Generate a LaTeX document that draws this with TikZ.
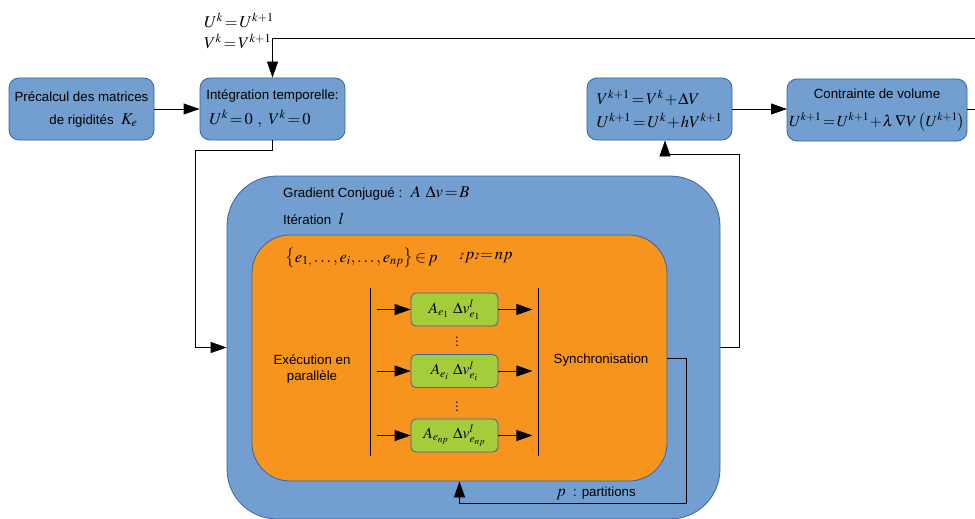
\documentclass[tikz,border=0pt]{standalone}
\usepackage{mathptmx}
\usepackage{fontspec}
\setmainfont{Liberation Sans}
\newfontfamily\djv{DejaVu Sans}
\usetikzlibrary{arrows.meta}
\definecolor{fillblue}{HTML}{729FCF}
\definecolor{bordblue}{HTML}{3465A4}
\definecolor{fillorange}{HTML}{F7941D}
\definecolor{fillgreen}{HTML}{A5CC3A}
\newcommand\mth[1]{{\fontsize{16.5}{18}\selectfont$#1$}}
\newcommand\mths[1]{{\fontsize{15.5}{18}\selectfont$#1$}}
\begin{document}
\begin{tikzpicture}[x=1pt,y=-1pt,
  every node/.style={font=\fontsize{13.3}{16.5}\selectfont, inner sep=0pt},
  box/.style={draw=bordblue, fill=fillblue, rounded corners=10pt, line width=0.8pt,
    font=\fontsize{13.3}{23}\selectfont},
  gbox/.style={draw=bordblue, fill=fillgreen, rounded corners=5pt, line width=0.8pt,
    minimum width=87pt, minimum height=33pt},
  arr/.style={-{Triangle[length=16pt,width=11pt]}, line width=0.8pt},
  ln/.style={line width=0.8pt},
  lbl/.style={anchor=west}
]
\thickmuskip=2mu \medmuskip=1mu
\useasboundingbox (0,0) rectangle (975,519);

% big containers
\node[draw=bordblue, fill=fillblue, rounded corners=50pt, line width=0.8pt,
  minimum width=493pt, minimum height=343pt] (cg) at (473.5,347.5) {};
\node[draw=bordblue, fill=fillorange, rounded corners=38pt, line width=0.8pt,
  minimum width=415pt, minimum height=246pt] (par) at (459.5,358) {};

% top boxes
\node[box, minimum width=145pt, minimum height=62pt, align=center] (pre) at (81.5,109)
  {Précalcul des matrices\\\hspace*{24pt}de rigidités \ \mth{K_e}};
\node[box, minimum width=145pt, minimum height=62pt, align=left] (int) at (272.5,109)
  {Intégration temporelle:\\[2pt]\hspace*{3pt}\mth{U^k=0\ ,\ V^k=0}};
\node[box, minimum width=145pt, minimum height=62pt, align=left] (upd) at (659.5,109)
  {\mth{V^{k+1}=V^k+\Delta V}\\\mth{U^{k+1}=U^k+hV^{k+1}}};
\node[box, minimum width=180pt, minimum height=62pt, align=center] (vol) at (877,110)
  {Contrainte de volume\\[5pt]\mths{U^{k+1}=U^{k+1}+\lambda\,\nabla V\left(U^{k+1}\right)}};

% labels
\node[lbl] (l1) at (204,20) {\mth{U^k=U^{k+1}}};
\node[lbl] (l2) at (204,41) {\mth{V^k=V^{k+1}}};
\node[lbl] (gc) at (283,193) {Gradient Conjugué : \ \mth{A\ \Delta v=B}};
\node[lbl] (it) at (283,219) {Itération \ \mth{l}};
\node[lbl] (ens) at (285,258) {\mth{\left\{e_{1,}\dots,e_i,\dots,e_{np}\right\}\in p}};
\node[lbl] (card) at (459,258) {{\djv\fontsize{9}{10}\selectfont ♪}\mth{p}{\djv\fontsize{9}{10}\selectfont ♪}\mth{=np}};
\node[align=center] (exe) at (312,369) {Exécution en\\parallèle};
\node (syn) at (601,360) {Synchronisation};
\node (ptn) at (596,493) {\mth{p} \ : partitions};

% green boxes
\node[gbox] (g1) at (454.5,309.5) {\mths{A_{e_1}\ \Delta v^{l}_{e_1}}};
\node[gbox] (g2) at (454.5,371) {\mths{A_{e_i}\ \Delta v^{l}_{e_i}}};
\node[gbox] (g3) at (454.5,435.5) {\mths{A_{e_{np}}\ \Delta v^{l}_{e_{np}}}};
\node (d1) at (457,339) {$\vdots$};
\node (d2) at (457,404) {$\vdots$};

% bars
\draw[ln] (370,288) -- (370,456);
\draw[ln] (538,288) -- (538,456);

\foreach \g in {g1,g2,g3}{
  \coordinate (in\g) at ([xshift=-34pt]\g.west);
  \coordinate (out\g) at ([xshift=34pt]\g.east);
  \draw[arr] (in\g) -- (\g.west);
  \draw[arr] (\g.east) -- (out\g);
}

% connectors
\draw[arr] (pre.east) -- (int.west);
\coordinate (vw) at (787,109);
\draw[arr] (upd.east) -- (vw);
\coordinate (rt) at (975,109);
\coordinate (ve) at (967,109);
\draw[ln] (ve) -- (rt);
\coordinate (fb) at (975,38);
\draw[arr] (fb) -| (int.north);
\coordinate (c1) at (195,150);
\draw[arr] (int.south) |- (c1) |- (cg.west);
\coordinate (c2) at (739,154);
\coordinate (c3) at (665,154);
\coordinate (c4) at (665,140.4);
\draw[arr] (cg.east) -| (c2) -- (c3) -- (c4);
\coordinate (c5) at (686,503);
\draw[arr] (par.east) -| (c5) -| (par.south);
\end{tikzpicture}
\end{document}
